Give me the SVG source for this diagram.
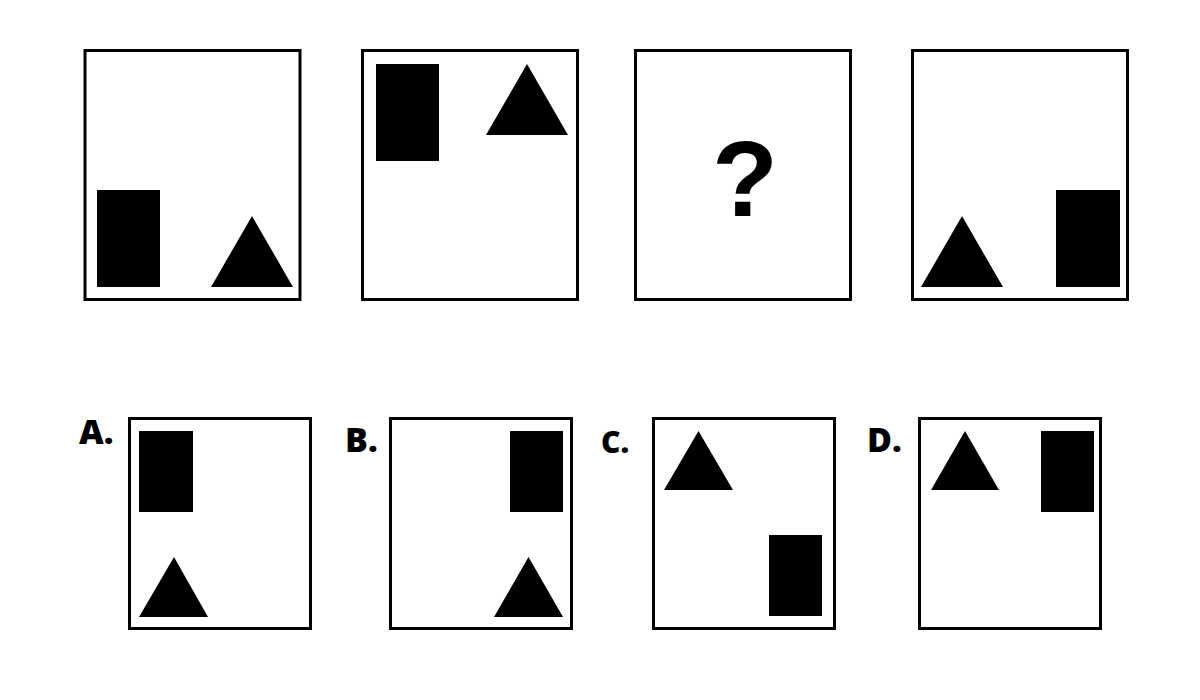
<svg xmlns="http://www.w3.org/2000/svg" width="1200" height="700" viewBox="0 0 1200 700">
<style>
.frame{fill:#fff;stroke:#000;stroke-width:3}
.shape{fill:#000}
.lbl{font-family:"Open Sans","Liberation Sans",sans-serif;font-weight:800;fill:#000}
.q{font-family:"Liberation Sans",Arial,sans-serif;font-weight:700;fill:#000}
</style>
<rect width="1200" height="700" fill="#fff"/>
<g id="panel1">
<rect class="frame" x="85" y="50.5" width="215" height="249"/>
<rect class="shape" x="97" y="190" width="63" height="97"/>
<polygon class="shape" points="252,216 211,287 293,287"/>
</g>
<g id="panel2">
<rect class="frame" x="362.5" y="50.5" width="215" height="249"/>
<rect class="shape" x="376" y="64" width="63" height="97"/>
<polygon class="shape" points="527,64 486,135 568,135"/>
</g>
<g id="panel3">
<rect class="frame" x="635.5" y="50.5" width="215" height="249"/>
<text class="q" x="745" y="216" font-size="108" text-anchor="middle">?</text>
</g>
<g id="panel4">
<rect class="frame" x="912.5" y="50.5" width="215" height="249"/>
<polygon class="shape" points="962,216 921,287 1003,287"/>
<rect class="shape" x="1056" y="190" width="64" height="97"/>
</g>
<g id="optionA">
<text class="lbl" x="79" y="444" font-size="34">A.</text>
<rect class="frame" x="129.5" y="418.5" width="181" height="210"/>
<rect class="shape" x="139" y="431" width="54" height="81"/>
<polygon class="shape" points="174,557 139,617 208,617"/>
</g>
<g id="optionB">
<text class="lbl" x="345" y="452" font-size="34">B.</text>
<rect class="frame" x="390.5" y="418.5" width="181" height="210"/>
<rect class="shape" x="510" y="431" width="53" height="81"/>
<polygon class="shape" points="528.5,557 494,617 563,617"/>
</g>
<g id="optionC">
<text class="lbl" x="601" y="453" font-size="30">C.</text>
<rect class="frame" x="653.5" y="418.5" width="181" height="210"/>
<polygon class="shape" points="698.5,431 664,490 733,490"/>
<rect class="shape" x="769" y="535" width="53" height="81"/>
</g>
<g id="optionD">
<text class="lbl" x="867" y="452" font-size="34">D.</text>
<rect class="frame" x="919.5" y="418.5" width="181" height="210"/>
<polygon class="shape" points="965,431 931,490 999,490"/>
<rect class="shape" x="1041" y="431" width="53" height="81"/>
</g>
<g id="connectors"></g>
</svg>
